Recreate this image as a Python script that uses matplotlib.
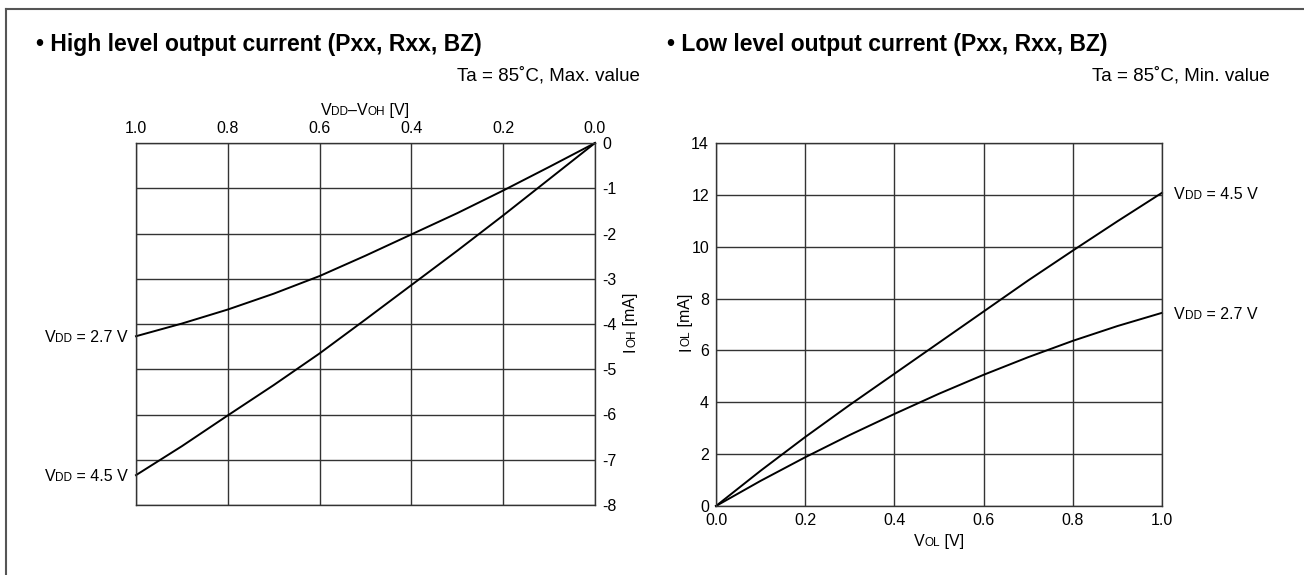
import matplotlib
matplotlib.use("Agg")
import matplotlib.pyplot as plt
from matplotlib.lines import Line2D
from matplotlib.transforms import IdentityTransform

plt.rcParams['font.family'] = ['Liberation Sans', 'DejaVu Sans']
plt.rcParams['axes.unicode_minus'] = False

W, H = 1304, 575

# ── High level output current: VDD-VOH [V] vs IOH [mA]
voh_drop = [0.0, 0.1, 0.2, 0.3, 0.4, 0.5, 0.6, 0.7, 0.8, 0.9, 1.0]
ioh_27v = [0.0, -0.53, -1.05, -1.55, -2.02, -2.49, -2.94, -3.33, -3.68, -3.99, -4.27]
ioh_45v = [0.0, -0.8, -1.6, -2.38, -3.14, -3.9, -4.65, -5.35, -6.02, -6.7, -7.34]
ioh_xticks = [1.0, 0.8, 0.6, 0.4, 0.2, 0.0]
ioh_yticks = [0, -1, -2, -3, -4, -5, -6, -7, -8]

# ── Low level output current: VOL [V] vs IOL [mA]
vol = [0.0, 0.1, 0.2, 0.3, 0.4, 0.5, 0.6, 0.7, 0.8, 0.9, 1.0]
iol_45v = [0.0, 1.36, 2.66, 3.9, 5.1, 6.3, 7.5, 8.7, 9.85, 10.98, 12.08]
iol_27v = [0.0, 0.97, 1.88, 2.74, 3.55, 4.33, 5.06, 5.74, 6.37, 6.94, 7.45]
iol_xticks = [0.0, 0.2, 0.4, 0.6, 0.8, 1.0]
iol_yticks = [0, 2, 4, 6, 8, 10, 12, 14]

GRID = '#333333'
TICK_PT = 11.5
SMALL_PT = 8.5
TITLE_PT = 16.5
SUB_PT = 13.5

fig = plt.figure(figsize=(W / 100, H / 100), dpi=100)
renderer = fig.canvas.get_renderer()


def px_axes(left, top, right, bottom):
    return fig.add_axes([left / W, 1 - bottom / H, (right - left) / W, (bottom - top) / H])


def runs(x, y, parts, ha='left', vertical=False):
    """Write text runs of mixed size end to end on one baseline.
    x, y are pixels from the top-left corner; (x, y) sits on the baseline."""
    widths = []
    for s, size in parts:
        t = fig.text(0, 0, s, fontsize=size)
        widths.append(t.get_window_extent(renderer).width)
        t.remove()
    total = sum(widths)
    pos = -{'left': 0, 'center': total / 2, 'right': total}[ha]
    for (s, size), w in zip(parts, widths):
        if vertical:
            xd, yd = x, H - (y - pos)
        else:
            xd, yd = x + pos, H - y
        fig.text(xd, yd, s, fontsize=size, transform=IdentityTransform(),
                 ha='left', va='baseline', rotation=90 if vertical else 0,
                 rotation_mode='anchor')
        pos += w


def style_axes(ax):
    ax.grid(True, color=GRID, linewidth=1.0)
    ax.set_axisbelow(True)
    for sp in ax.spines.values():
        sp.set_color(GRID)
        sp.set_linewidth(1.0)
    ax.tick_params(length=0, labelsize=TICK_PT, pad=5)


# outer frame
fig.add_artist(Line2D([6 / W, 6 / W], [0, 1 - 9 / H], transform=fig.transFigure,
                      color='#555555', linewidth=1.5))
fig.add_artist(Line2D([6 / W, 1], [1 - 9 / H, 1 - 9 / H], transform=fig.transFigure,
                      color='#555555', linewidth=1.5))

# ── left panel
fig.text(36 / W, 1 - 51 / H, '• High level output current (Pxx, Rxx, BZ)',
         fontsize=TITLE_PT, fontweight='bold', ha='left', va='baseline')
fig.text(640 / W, 1 - 81 / H, 'Ta = 85˚C, Max. value',
         fontsize=SUB_PT, ha='right', va='baseline')

ax1 = px_axes(136, 143, 595, 505)
ax1.plot(voh_drop, ioh_27v, color='black', linewidth=1.4, clip_on=False)
ax1.plot(voh_drop, ioh_45v, color='black', linewidth=1.4, clip_on=False)
ax1.set_xlim(1.0, 0.0)
ax1.set_ylim(-8, 0)
ax1.set_xticks(ioh_xticks)
ax1.set_xticklabels([f'{v:.1f}' for v in ioh_xticks])
ax1.set_yticks(ioh_yticks)
ax1.xaxis.tick_top()
ax1.yaxis.tick_right()
style_axes(ax1)

runs(365, 115, [('V', TICK_PT), ('DD', SMALL_PT), ('–V', TICK_PT), ('OH', SMALL_PT), (' [V]', TICK_PT)],
     ha='center')
runs(635, 322, [('I', TICK_PT), ('OH', SMALL_PT), (' [mA]', TICK_PT)], ha='center', vertical=True)
runs(128, 342, [('V', TICK_PT), ('DD', SMALL_PT), (' = 2.7 V', TICK_PT)], ha='right')
runs(128, 481, [('V', TICK_PT), ('DD', SMALL_PT), (' = 4.5 V', TICK_PT)], ha='right')

# ── right panel
fig.text(667 / W, 1 - 51 / H, '• Low level output current (Pxx, Rxx, BZ)',
         fontsize=TITLE_PT, fontweight='bold', ha='left', va='baseline')
fig.text(1270 / W, 1 - 81 / H, 'Ta = 85˚C, Min. value',
         fontsize=SUB_PT, ha='right', va='baseline')

ax2 = px_axes(716, 143, 1162, 506)
ax2.plot(vol, iol_45v, color='black', linewidth=1.4, clip_on=False)
ax2.plot(vol, iol_27v, color='black', linewidth=1.4, clip_on=False)
ax2.set_xlim(0.0, 1.0)
ax2.set_ylim(0, 14)
ax2.set_xticks(iol_xticks)
ax2.set_xticklabels([f'{v:.1f}' for v in iol_xticks])
ax2.set_yticks(iol_yticks)
style_axes(ax2)

runs(939, 546, [('V', TICK_PT), ('OL', SMALL_PT), (' [V]', TICK_PT)], ha='center')
runs(690, 322, [('I', TICK_PT), ('OL', SMALL_PT), (' [mA]', TICK_PT)], ha='center', vertical=True)
runs(1174, 199, [('V', TICK_PT), ('DD', SMALL_PT), (' = 4.5 V', TICK_PT)], ha='left')
runs(1174, 319, [('V', TICK_PT), ('DD', SMALL_PT), (' = 2.7 V', TICK_PT)], ha='left')

fig.savefig('out.png', dpi=100, facecolor='white')
